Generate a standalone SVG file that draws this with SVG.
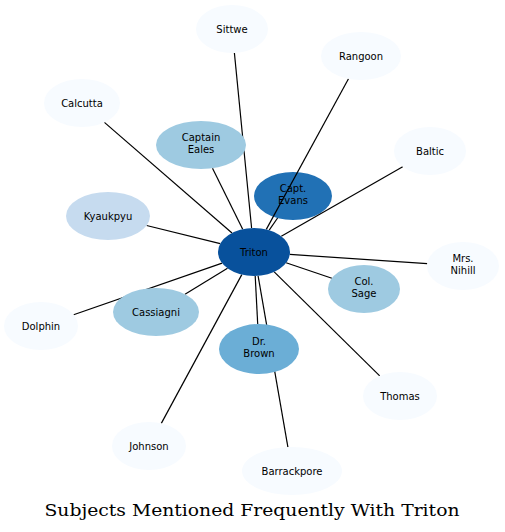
<svg xmlns="http://www.w3.org/2000/svg" width="505" height="532" viewBox="0 0 505 532">
<style>
.n text{font-family:"DejaVu Sans",sans-serif;font-size:10px;fill:#000;text-anchor:middle}
.c0 ellipse{fill:#f7fbff}
.c1 ellipse{fill:#c6dbef}
.c2 ellipse{fill:#9ecae1}
.c3 ellipse{fill:#6baed6}
.c4 ellipse{fill:#2171b5}
.c5 ellipse{fill:#08519c}
#connectors line{stroke:#000;stroke-width:1.2}
.title{font-family:"DejaVu Serif","Liberation Serif",serif;font-size:17px;fill:#000;text-anchor:middle}
</style>
<rect width="505" height="532" fill="#fff"/>
<g id="capt-evans" class="n c4"><ellipse cx="293" cy="196" rx="39" ry="24"/><text x="293" y="192">Capt.</text><text x="293" y="204">Evans</text></g>
<g id="connectors">
<line x1="251.6" y1="228" x2="234.4" y2="53"/>
<line x1="266.3" y1="229.4" x2="348.5" y2="78.8"/>
<line x1="232" y1="233" x2="104.4" y2="122.4"/>
<line x1="281.3" y1="236.3" x2="402.7" y2="166.7"/>
<line x1="242.7" y1="229.2" x2="212.5" y2="168.2"/>
<line x1="269.2" y1="230.2" x2="277.6" y2="218"/>
<line x1="220.2" y1="243.7" x2="146.6" y2="225.5"/>
<line x1="289.8" y1="254.4" x2="427.2" y2="263.6"/>
<line x1="286.1" y1="262.8" x2="331.9" y2="278.2"/>
<line x1="222.1" y1="263.1" x2="73.6" y2="314.7"/>
<line x1="227.5" y1="268.2" x2="185" y2="294.3"/>
<line x1="255.2" y1="276" x2="257.7" y2="324"/>
<line x1="258.1" y1="275.8" x2="287.9" y2="447.1"/>
<line x1="274.2" y1="271.9" x2="379.7" y2="375.9"/>
<line x1="241.8" y1="274.6" x2="161.3" y2="423.4"/>
</g>
<g id="triton" class="n c5"><ellipse cx="254" cy="252" rx="36" ry="24"/><text x="254" y="255.5">Triton</text></g>
<g id="sittwe" class="n c0"><ellipse cx="232" cy="29" rx="36" ry="24"/><text x="232" y="32.5">Sittwe</text></g>
<g id="rangoon" class="n c0"><ellipse cx="361" cy="56" rx="40" ry="24"/><text x="361" y="59.5">Rangoon</text></g>
<g id="calcutta" class="n c0"><ellipse cx="82" cy="103" rx="38" ry="24"/><text x="82" y="106.5">Calcutta</text></g>
<g id="baltic" class="n c0"><ellipse cx="430" cy="151" rx="36" ry="24"/><text x="430" y="154.5">Baltic</text></g>
<g id="captain-eales" class="n c2"><ellipse cx="201" cy="145" rx="45" ry="24"/><text x="201" y="141">Captain</text><text x="201" y="153">Eales</text></g>
<g id="kyaukpyu" class="n c1"><ellipse cx="108" cy="216" rx="42" ry="24"/><text x="108" y="219.5">Kyaukpyu</text></g>
<g id="mrs-nihill" class="n c0"><ellipse cx="463" cy="266" rx="36" ry="24"/><text x="463" y="262">Mrs.</text><text x="463" y="274">Nihill</text></g>
<g id="col-sage" class="n c2"><ellipse cx="364" cy="289" rx="36" ry="24"/><text x="364" y="285">Col.</text><text x="364" y="297">Sage</text></g>
<g id="dolphin" class="n c0"><ellipse cx="41" cy="326" rx="37" ry="24"/><text x="41" y="329.5">Dolphin</text></g>
<g id="cassiagni" class="n c2"><ellipse cx="156" cy="312" rx="43" ry="24"/><text x="156" y="315.5">Cassiagni</text></g>
<g id="dr-brown" class="n c3"><ellipse cx="259" cy="349" rx="40" ry="25"/><text x="259" y="345">Dr.</text><text x="259" y="357">Brown</text></g>
<g id="thomas" class="n c0"><ellipse cx="400" cy="396" rx="37" ry="24"/><text x="400" y="399.5">Thomas</text></g>
<g id="johnson" class="n c0"><ellipse cx="149" cy="446" rx="37" ry="24"/><text x="149" y="449.5">Johnson</text></g>
<g id="barrackpore" class="n c0"><ellipse cx="292" cy="471" rx="50" ry="24"/><text x="292" y="474.5">Barrackpore</text></g>
<text class="title" x="252" y="516" textLength="415" lengthAdjust="spacingAndGlyphs">Subjects Mentioned Frequently With Triton</text>
</svg>
